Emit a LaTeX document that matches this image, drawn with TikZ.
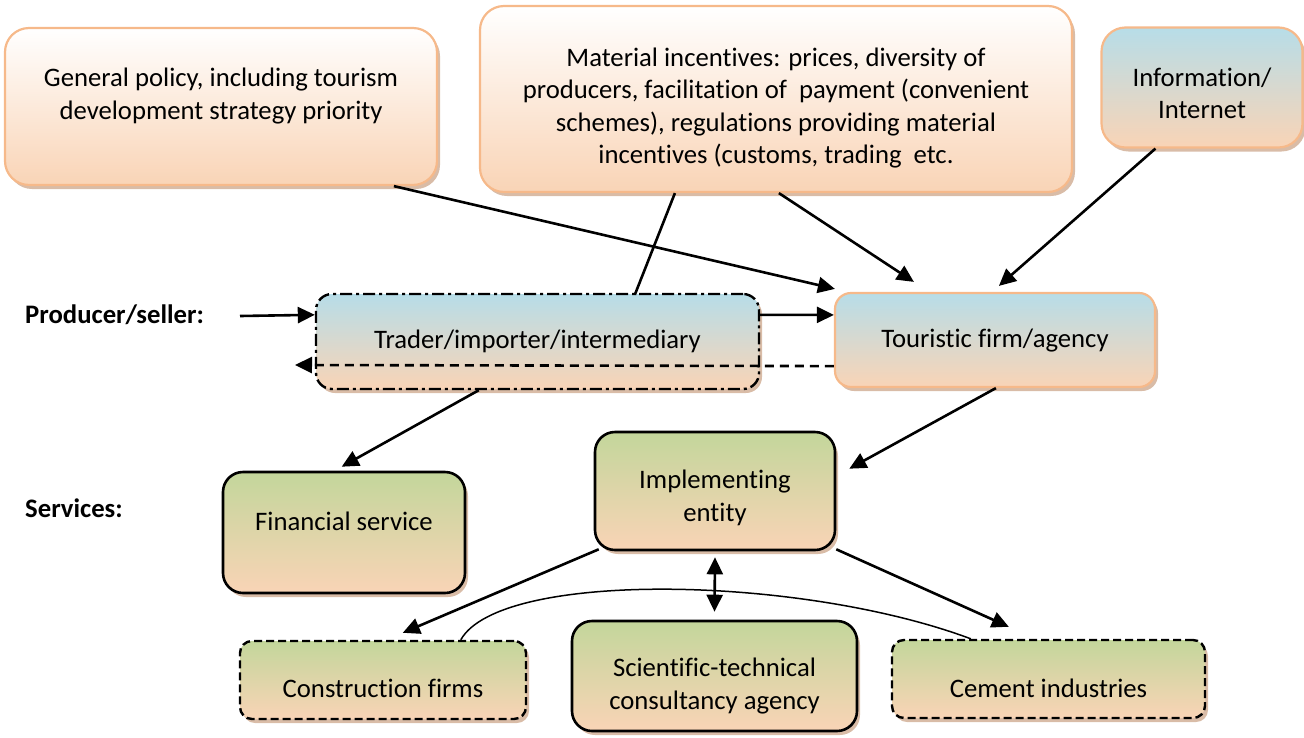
\documentclass[tikz,border=0pt]{standalone}
\usepackage{fontspec}
\setmainfont[Ligatures=NoCommon]{Carlito}
\usetikzlibrary{arrows.meta,shadows,calc}
\definecolor{peach}{HTML}{F9D4B6}
\definecolor{skyb}{HTML}{B7DDE8}
\definecolor{leaf}{HTML}{C3D69B}
\definecolor{orborder}{HTML}{F6B98A}
\definecolor{shadowc}{HTML}{C9A082}
\begin{document}
\begin{tikzpicture}[x=1pt,y=-1pt,
  font=\fontsize{26.7}{32.5}\selectfont,
  box/.style={inner sep=0pt, draw, drop shadow={shadow xshift=3pt, shadow yshift=-4pt, fill=shadowc, opacity=0.7}},
  obox/.style={box, draw=orborder, line width=2.2pt, rounded corners=24pt},
  kbox/.style={box, draw=black, line width=2.6pt, rounded corners=20pt},
  dbox/.style={box, draw=black, line width=2.4pt, rounded corners=12pt, dash pattern=on 8pt off 4pt},
  ddbox/.style={box, draw=black, line width=2.4pt, rounded corners=16pt, dash pattern=on 12pt off 4pt on 3pt off 4pt},
  txt/.style={align=center, inner sep=0pt},
  tip/.tip={Triangle[length=17pt,width=16pt]},
  arr/.style={line width=2.6pt, -tip},
  ln/.style={line width=2.6pt}
]
\useasboundingbox (0,0) rectangle (1304,737);

% top boxes
\node[obox, top color=white, bottom color=peach, minimum width=432pt, minimum height=157pt] (policy) at (221,106.5) {};
\node[txt] (policyt) at (221,96) {General policy, including tourism\\development strategy priority};

\node[obox, top color=white, bottom color=peach, minimum width=592pt, minimum height=186pt] (material) at (776,99) {};
\node[txt] (materialt) at (776,108) {Material incentives: prices, diversity of\\producers, facilitation of\ \ payment (convenient\\schemes), regulations providing material\\incentives (customs, trading\ \ etc.};

\node[obox, top color=skyb, bottom color=peach, minimum width=201pt, minimum height=120pt] (info) at (1202,87.5) {};
\node[txt] (infot) at (1202,93.5) {Information/\\Internet};

% middle row
\node[ddbox, top color=skyb, bottom color=peach, minimum width=443pt, minimum height=95pt] (trader) at (537.5,341.5) {};
\node[txt] (tradert) at (537.5,341) {Trader/importer/intermediary};

\node[obox, rounded corners=16pt, top color=skyb, bottom color=peach, minimum width=320pt, minimum height=94pt] (tour) at (995,340) {};
\node[txt] (tourt) at (995,341) {Touristic firm/agency};

\node[txt, font=\fontsize{26.7}{32.5}\selectfont\bfseries, anchor=west] (prodlab) at (25,315) {Producer/seller:};
\node[txt, font=\fontsize{26.7}{32.5}\selectfont\bfseries, anchor=west] (servlab) at (25,508) {Services:};

% services
\node[kbox, top color=leaf, bottom color=peach, minimum width=240pt, minimum height=118pt] (impl) at (715,491) {};
\node[txt] (implt) at (715,498) {Implementing\\entity};

\node[kbox, top color=leaf, bottom color=peach, minimum width=242pt, minimum height=121pt] (fin) at (344,532.5) {};
\node[txt] (fint) at (344,521) {Financial service};

\node[dbox, top color=leaf, bottom color=peach, minimum width=286pt, minimum height=78pt] (constr) at (383,680) {};
\node[txt] (constrt) at (383,688) {Construction firms};

\node[kbox, top color=leaf, bottom color=peach, minimum width=285pt, minimum height=110pt] (sci) at (714.5,676) {};
\node[txt] (scit) at (714.5,686) {Scientific-technical\\consultancy agency};

\node[dbox, top color=leaf, bottom color=peach, minimum width=313pt, minimum height=78pt] (cement) at (1048.5,679) {};
\node[txt] (cementt) at (1048.5,688) {Cement industries};

% connectors
\coordinate (pstart) at (240,316);
\draw[arr] (pstart) -- ($(trader.north west)+(0,22)$);
\draw[arr] ($(trader.north east)+(0,22)$) -- ($(tour.north west)+(0,23)$);
\coordinate (dashend) at (295,365);
\draw[arr, dash pattern=on 9pt off 6pt] ($(tour.south west)+(0,-22)$) -- (dashend);

\draw[arr] ($(policy.south west)+(390,0)$) -- ($(tour.north west)+(1,-3)$);
\draw[ln] ($(material.south west)+(196,0)$) -- ($(trader.north west)+(320,2)$);
\draw[arr] ($(material.south west)+(300,0)$) -- ($(tour.north west)+(80,-10)$);
\draw[arr] ($(info.south west)+(55,0)$) -- ($(tour.north west)+(165,-6)$);

\draw[arr] ($(trader.south west)+(164,0)$) -- ($(fin.north west)+(120,-4)$);
\draw[arr] ($(tour.south west)+(162,0)$) -- ($(impl.north east)+(13,38)$);
\draw[arr] ($(impl.south west)+(5,-2)$) -- ($(constr.north west)+(164,-7)$);
\draw[arr] ($(impl.south east)+(0,-2)$) -- ($(cement.north west)+(118,-12)$);
\draw[line width=2.6pt, tip-tip] ($(impl.south)+(0,6)$) -- ($(sci.north)+(0,-8)$);
\draw[line width=1.5pt] ($(constr.north west)+(222,0)$) .. controls (500,570) and (800,575) .. ($(cement.north west)+(80,0)$);
\end{tikzpicture}
\end{document}
